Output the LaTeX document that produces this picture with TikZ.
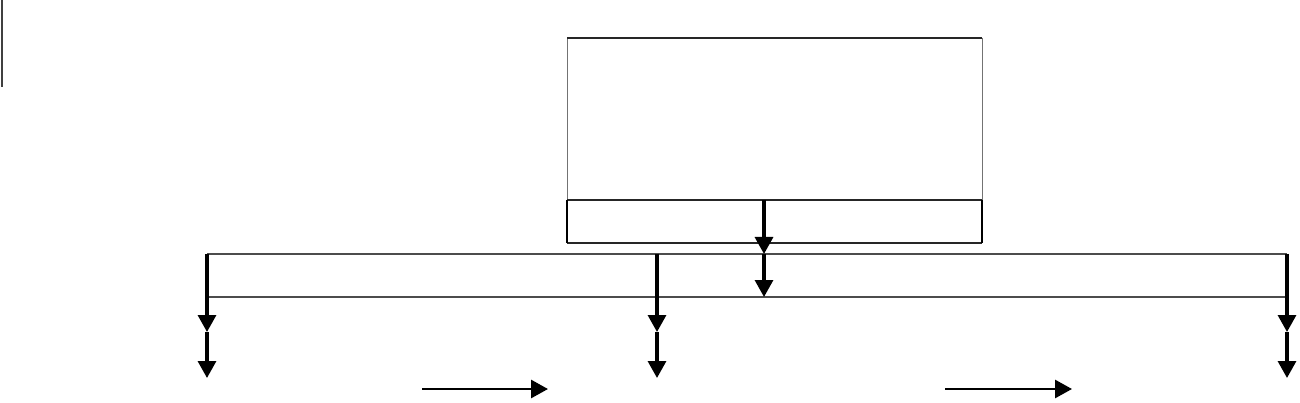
\documentclass[tikz,border=0pt]{standalone}
\usetikzlibrary{arrows.meta}
\begin{document}
\begin{tikzpicture}[x=1pt,y=-1pt,
  flow/.style={line width=3.2pt,-{Triangle[length=17pt,width=18pt]}},
  edge/.style={line width=1.5pt,black!85},
  thinside/.style={line width=0.8pt,black!55},
  barline/.style={line width=1.4pt,black!70}]
\useasboundingbox (0,0) rectangle (1300,403);
% left margin mark
\coordinate (m1) at (1.5,0); \coordinate (m2) at (1.5,87);
\draw[line width=2pt,black!75] (m1) -- (m2);
% big box
\coordinate (bTL) at (567,38); \coordinate (bTR) at (982,38);
\coordinate (bBL) at (567,200); \coordinate (bBR) at (982,200);
\draw[thinside] (bTL) -- (bBL) (bTR) -- (bBR);
\draw[edge] (bTL) -- (bTR);
\draw[edge] (bBL) -- (bBR);
% lower box
\coordinate (lBL) at (567,243); \coordinate (lBR) at (982,243);
\draw[edge] (lBL) -- (lBR);
\draw[line width=2pt] (bBL) -- (lBL) (bBR) -- (lBR);
% wide bar
\coordinate (wTL) at (207,254); \coordinate (wTR) at (1287,254);
\coordinate (wBL) at (207,297); \coordinate (wBR) at (1287,297);
\draw[barline] (wTL) -- (wTR);
\draw[barline] (wBL) -- (wBR);
% central arrow
\coordinate (c0) at (764,200); \coordinate (c1) at (764,254); \coordinate (c2) at (764,297);
\draw[flow] (c0) -- (c1);
\draw[flow] (c1) -- (c2);
% drops
\foreach \x/\n in {207/a,657/b,1287/c}{
  \coordinate (\n0) at (\x,254);
  \coordinate (\n1) at (\x,332);
  \coordinate (\n2) at (\x,378);
  \draw[flow] (\n0) -- (\n1);
  \draw[flow] (\n1) -- (\n2);
}
% horizontal arrows
\coordinate (h1s) at (422,389); \coordinate (h1e) at (548,389);
\coordinate (h2s) at (945,389); \coordinate (h2e) at (1072,389);
\draw[flow,line width=2.8pt] (h1s) -- (h1e);
\draw[flow,line width=2.8pt] (h2s) -- (h2e);
\end{tikzpicture}
\end{document}
